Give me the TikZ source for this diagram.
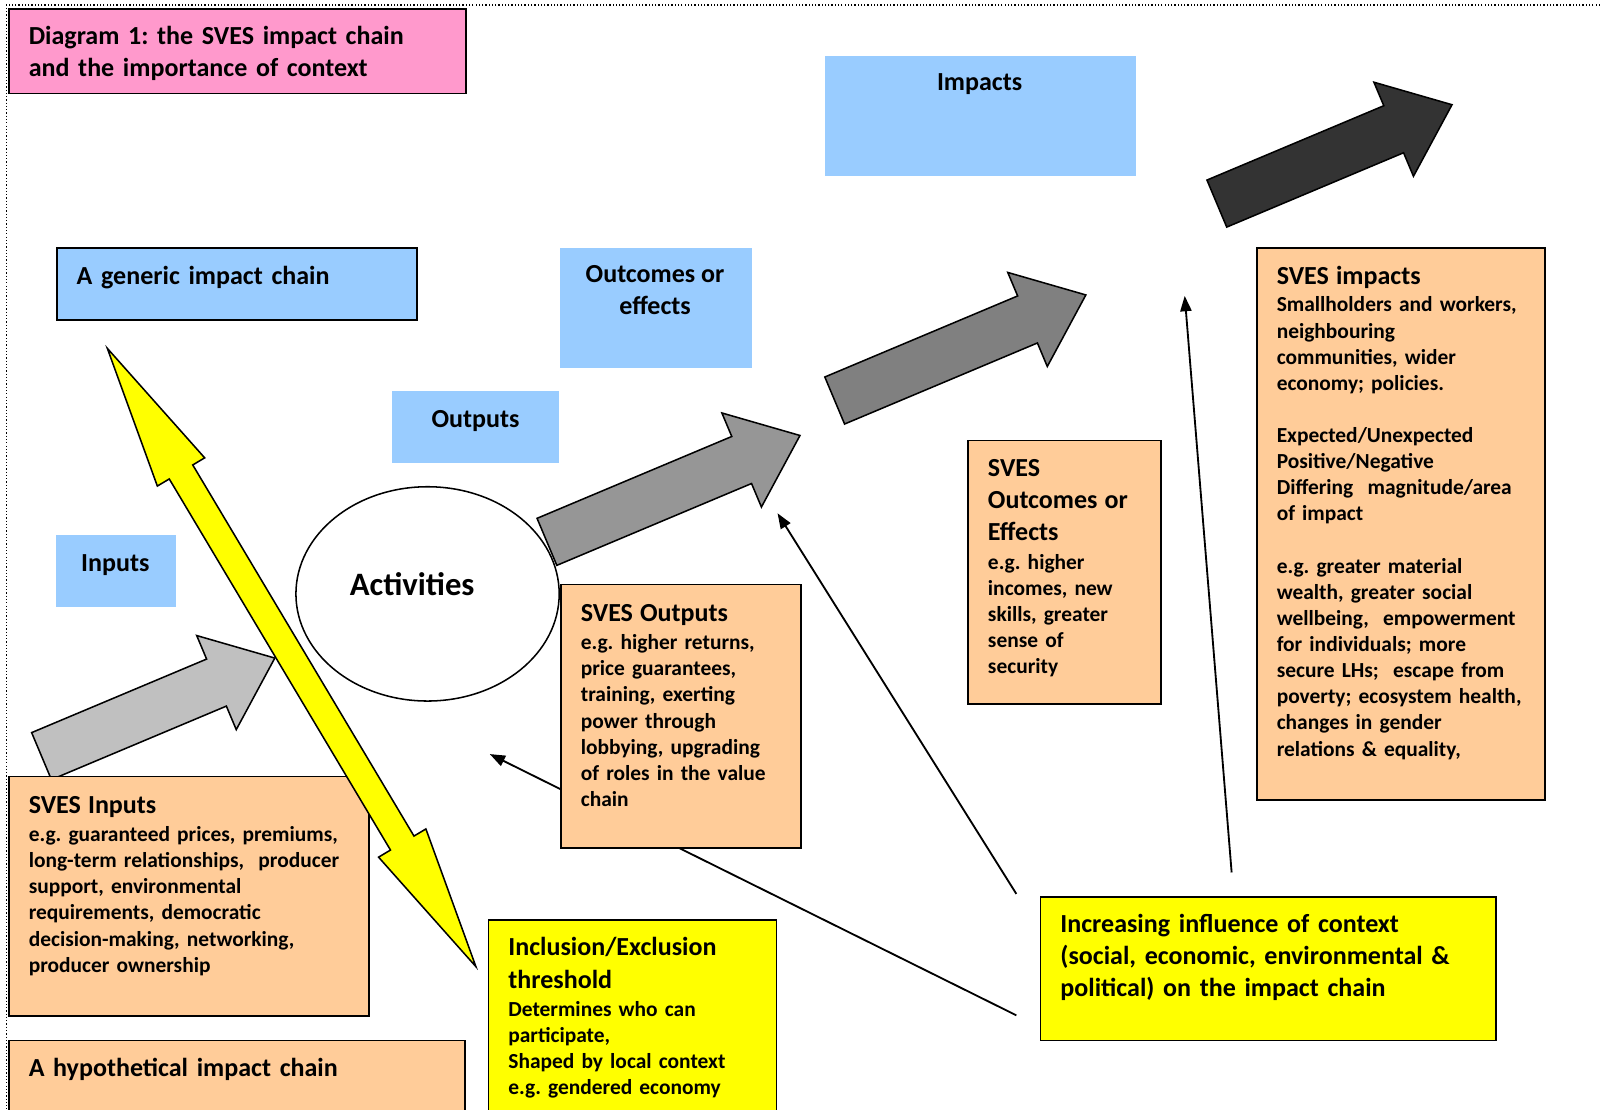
\documentclass[tikz,border=0pt]{standalone}
\usepackage{fontspec}
\setmainfont{Carlito}
\usetikzlibrary{arrows.meta}
\usetikzlibrary{shapes.geometric}

\definecolor{titlepink}{HTML}{FF99CC}
\definecolor{labelblue}{HTML}{99CCFF}
\definecolor{boxorange}{HTML}{FFCC99}
\definecolor{ctxyellow}{HTML}{FFFF00}
\definecolor{greyA}{HTML}{C0C0C0}
\definecolor{greyB}{HTML}{969696}
\definecolor{greyC}{HTML}{808080}
\definecolor{greyD}{HTML}{333333}
\newcommand{\headfont}{\fontsize{25.5}{31.5}\selectfont\bfseries}
\newcommand{\bodyfont}{\fontsize{21}{25.6}\selectfont\bfseries}
\frenchspacing

\begin{document}
\begin{tikzpicture}[x=1pt,y=-1pt,
  bluebox/.style={fill=labelblue,inner sep=0,anchor=north west},
  framebox/.style={draw,line width=1.6pt,inner sep=0,anchor=north west},
  txt/.style={inner sep=0,anchor=north west,text width=440pt,align=left,font=\bodyfont},
  lbl/.style={inner sep=0,anchor=north,align=center,font=\headfont},
  thinarrow/.style={line width=1.8pt,-{Triangle[length=15pt,width=11pt]}},
  blockarrow/.style={draw,line width=1.5pt,line join=miter}]
  \useasboundingbox (0,0) rectangle (1568,1087);
  % dotted frame
  \draw[dotted,line width=1.2pt] (1568,5) -- (6,5) -- (6,1087);

  % blue labels of the generic chain
  \node[bluebox,minimum width=305,minimum height=117] (impacts) at (808,55) {};
  \node[bluebox,minimum width=188,minimum height=117] (outcomes) at (549,243) {};
  \node[bluebox,minimum width=164,minimum height=71] (outputs) at (384,383) {};
  \node[bluebox,minimum width=117,minimum height=71] (inputs) at (55,524) {};
  \node[bluebox,framebox,minimum width=353,minimum height=71] (generic) at (55,242) {};
  \node[framebox,fill=titlepink,minimum width=448,minimum height=83] (title) at (8,8) {};

  \node[ellipse,draw,line width=1.5pt,minimum width=258,minimum height=210] (act) at (419,582) {};

  % block arrows along the chain
  \foreach \px/\py/\len/\col in {40.7/741/186/greyA,536/531/207/greyB,818/392.5/205/greyC,1192.5/199.5/188/greyD}
    \filldraw[blockarrow,fill=\col,shift={(\px,\py)},rotate=22.8]
      (0,-25) -- (\len,-25) -- (\len,-50) -- ({\len+62},0) -- (\len,50) -- (\len,25) -- (0,25) -- cycle;

  % influence of context
  \coordinate (ctxA) at (996,995);
  \coordinate (ctxB) at (996,876);
  \coordinate (ctxC) at (1207,855);
  \coordinate (actIn) at (480,739);
  \coordinate (outIn) at (762,503);
  \coordinate (impIn) at (1161,290);
  \draw[thinarrow] (ctxA) -- (actIn);
  \draw[thinarrow] (ctxB) -- (outIn);
  \draw[thinarrow] (ctxC) -- (impIn);

  % SVES boxes
  \node[framebox,fill=boxorange,minimum width=353,minimum height=235] (sinputs) at (8,760) {};
  \node[framebox,fill=boxorange,minimum width=447,minimum height=100] (hypo) at (8,1019) {};
  \node[framebox,fill=ctxyellow,minimum width=282,minimum height=200] (incl) at (478,901) {};
  \node[framebox,fill=boxorange,minimum width=235,minimum height=258] (soutputs) at (549,572) {};
  \node[framebox,fill=boxorange,minimum width=189,minimum height=258] (soutcomes) at (948,431) {};
  \node[framebox,fill=boxorange,minimum width=282,minimum height=541] (simpacts) at (1231,242) {};
  \node[framebox,fill=ctxyellow,minimum width=446,minimum height=141] (context) at (1019,878) {};

  % inclusion/exclusion threshold
  \filldraw[blockarrow,fill=ctxyellow,shift={(105.2,341.4)},rotate=-59.2]
    (0,0) -- (141,-27) -- (141,-13.4) -- (564.4,-13.4) -- (564.4,-27) -- (705.4,0)
    -- (564.4,27) -- (564.4,13.4) -- (141,13.4) -- (141,27) -- cycle;

  % texts
  \node[txt,font=\headfont] (title-t) at (28,21.5) {\strut Diagram 1: the SVES impact chain\\and the importance of context};
  \node[txt,font=\headfont] (generic-t) at (75,256.5) {\strut A generic impact chain};
  \node[lbl] (impacts-t) at (960,66.5) {\strut Impacts};
  \node[lbl] (outcomes-t) at (642,254.5) {\strut Outcomes or\\effects};
  \node[lbl] (outputs-t) at (466,396.5) {\strut Outputs};
  \node[lbl] (inputs-t) at (113,537.5) {\strut Inputs};
  \node[font=\fontsize{32}{38}\selectfont\bfseries,inner sep=0,anchor=base] (act-t) at (404,584) {Activities};
  \node[txt] (sinputs-t) at (28,774.5) {{\headfont\strut SVES Inputs\par}\vspace{2.4pt}
    e.g. guaranteed prices, premiums,\\long-term relationships,\ \ producer\\support, environmental\\requirements, democratic\\decision-making, networking,\\producer ownership};
  \node[txt,font=\headfont] (hypo-t) at (28,1032.5) {\strut A hypothetical impact chain};
  \node[txt] (incl-t) at (498,914.5) {{\headfont\strut Inclusion/Exclusion\\threshold\par}\vspace{2.4pt}
    Determines who can\\participate,\\Shaped by local context\\e.g. gendered economy};
  \node[txt] (soutputs-t) at (569,586.5) {{\headfont\strut SVES Outputs\par}\vspace{2.4pt}
    e.g. higher returns,\\price guarantees,\\training, exerting\\power through\\lobbying, upgrading\\of roles in the value\\chain};
  \node[txt] (soutcomes-t) at (968,444.5) {{\headfont\strut SVES\\Outcomes or\\Effects\par}\vspace{2.4pt}
    e.g. higher\\incomes, new\\skills, greater\\sense of\\security};
  \node[txt] (simpacts-t) at (1251,256.5) {{\headfont\strut SVES impacts\par}\vspace{1.4pt}
    Smallholders and workers,\\neighbouring\\communities, wider\\economy; policies.\\[25.6pt]
    Expected/Unexpected\\Positive/Negative\\Differing\ \ magnitude/area\\of impact\\[25.6pt]
    e.g. greater material\\wealth, greater social\\wellbeing,\ \ empowerment\\for individuals; more\\secure LHs;\ \ escape from\\poverty; ecosystem health,\\changes in gender\\relations \& equality,};
  \node[txt,font=\headfont] (context-t) at (1039,891.5) {\strut Increasing influence of context\\(social, economic, environmental \&\\political) on the impact chain};
\end{tikzpicture}
\end{document}
